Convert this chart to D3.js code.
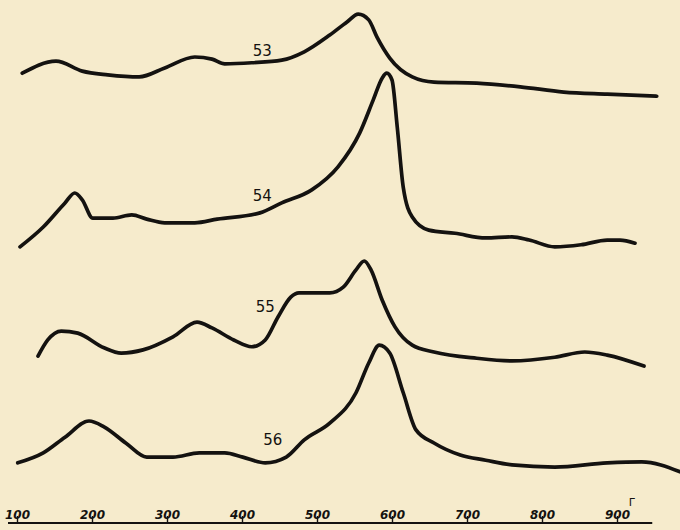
<!DOCTYPE html>
<html>
<head>
<meta charset="utf-8">
<script src="https://cdn.jsdelivr.net/npm/d3@7"></script>
<style>
  body { margin: 0; background: #f6ebcc; }
  svg { display: block; }
</style>
</head>
<body>
<svg id="chart"></svg>
<script>
var width = 680;
var height = 530;

// wavelength ticks
var tickValues = [100, 200, 300, 400, 500, 600, 700, 800, 900];
var unitLabel = "Г";

// curves: [wavelength, deflection]
var seriesNames = ["53", "54", "55", "56"];

var curve53 = [
  [107, 86.0], [152, 88.3], [187, 86.4], [221, 85.7], [263, 85.3], [297, 87.0],
  [337, 89.1], [360, 88.7], [377, 87.8], [413, 88.0], [453, 88.5], [483, 90.1],
  [517, 93.3], [540, 95.8], [555, 97.3], [569, 96.2], [580, 92.9], [597, 88.9],
  [627, 85.3], [656, 84.3], [713, 84.1], [771, 83.4], [829, 82.4], [887, 82.0],
  [953, 81.6]
];

var curve54 = [
  [104, 52.8], [135, 56.6], [164, 61.2], [177, 63.1], [187, 61.8], [201, 58.3],
  [228, 58.3], [253, 58.9], [273, 58.1], [297, 57.4], [337, 57.4], [367, 58.1],
  [424, 59.3], [453, 61.2], [493, 63.7], [528, 68.1], [557, 74.6], [575, 80.9],
  [587, 85.1], [593, 86.0], [600, 84.7], [607, 75.7], [615, 64.2], [627, 58.5],
  [649, 56.0], [684, 55.4], [725, 54.5], [760, 54.7], [783, 54.1], [817, 52.8],
  [852, 53.2], [887, 54.1], [904, 54.1], [924, 53.5]
];

var curve55 = [
  [128, 31.9], [141, 35.0], [159, 36.7], [181, 36.3], [216, 33.5], [239, 32.5],
  [268, 33.1], [308, 35.6], [340, 38.4], [360, 37.3], [389, 35.0], [413, 33.7],
  [431, 35.0], [448, 39.4], [465, 43.2], [476, 44.0], [517, 44.0], [535, 45.1],
  [552, 48.4], [563, 50.1], [572, 48.4], [587, 42.6], [604, 37.5], [627, 34.0],
  [656, 32.7], [713, 31.5], [760, 31.0], [817, 31.7], [857, 32.7], [887, 32.1],
  [936, 30.0]
];

var curve56 = [
  [101, 11.5], [135, 13.4], [164, 16.4], [196, 19.5], [216, 18.4], [245, 15.3],
  [273, 12.6], [308, 12.6], [343, 13.4], [377, 13.4], [401, 12.6], [431, 11.5],
  [459, 12.6], [483, 15.9], [517, 19.1], [552, 24.9], [569, 30.6], [583, 34.0],
  [597, 32.5], [615, 24.9], [632, 17.8], [656, 15.3], [691, 13.0], [725, 12.0],
  [760, 11.1], [817, 10.7], [887, 11.5], [933, 11.7], [984, 9.8]
];

// where each number is written along its curve
var labelAt = [427, 427, 431, 441];

var curves = [curve53, curve54, curve55, curve56];

var x = d3.scaleLinear().domain([100, 900]).range([17, 617]);
var y = d3.scaleLinear().domain([0, 100]).range([523, 0]);

var svg = d3.select("#chart")
  .attr("width", width)
  .attr("height", height);

svg.append("rect")
  .attr("width", width)
  .attr("height", height)
  .attr("fill", "#f6ebcc");

var line = d3.line()
  .x(d => x(d[0]))
  .y(d => y(d[1]))
  .curve(d3.curveMonotoneX);

var plot = svg.append("g");

plot.selectAll("path.trace")
  .data(curves)
  .join("path")
  .attr("class", "trace")
  .attr("fill", "none")
  .attr("stroke", "#141210")
  .attr("stroke-width", 3.7)
  .attr("stroke-linecap", "round")
  .attr("stroke-linejoin", "round")
  .attr("d", line);

// curve numbers, a little above the trace (px)
var labelLift = [11, 16, 33, 21];

function valueAt(data, v) {
  var i = d3.bisector(d => d[0]).left(data, v);
  var a = data[Math.max(0, i - 1)], b = data[Math.min(data.length - 1, i)];
  if (a[0] === b[0]) return a[1];
  return a[1] + (b[1] - a[1]) * (v - a[0]) / (b[0] - a[0]);
}

plot.selectAll("text.num")
  .data(seriesNames)
  .join("text")
  .attr("class", "num")
  .attr("x", (d, i) => x(labelAt[i]))
  .attr("y", (d, i) => y(valueAt(curves[i], labelAt[i])) - labelLift[i] + 5)
  .attr("text-anchor", "middle")
  .attr("font-family", "DejaVu Sans, sans-serif")
  .attr("font-size", 15)
  .attr("fill", "#141210")
  .text(d => d);

// wavelength axis, labels sit on the line
var axis = d3.axisTop(x)
  .tickValues(tickValues)
  .tickSizeInner(7)
  .tickSizeOuter(0)
  .tickPadding(-3)
  .tickFormat(d3.format("d"));

var ax = svg.append("g")
  .attr("transform", `translate(0,${y(0)})`)
  .call(axis);

ax.select(".domain").remove();
ax.selectAll(".tick line")
  .attr("stroke", "#141210")
  .attr("stroke-width", 1.4);
ax.selectAll(".tick text")
  .attr("fill", "#141210")
  .attr("font-family", "DejaVu Sans, sans-serif")
  .attr("font-size", 12)
  .attr("font-weight", "bold")
  .attr("font-style", "italic");

ax.append("line")
  .attr("x1", x(88))
  .attr("x2", x(947))
  .attr("stroke", "#141210")
  .attr("stroke-width", 2);

ax.append("text")
  .attr("x", x(900) + 15)
  .attr("y", -17)
  .attr("fill", "#141210")
  .attr("font-family", "DejaVu Sans, sans-serif")
  .attr("font-size", 11)
  .text(unitLabel);
</script>
</body>
</html>
